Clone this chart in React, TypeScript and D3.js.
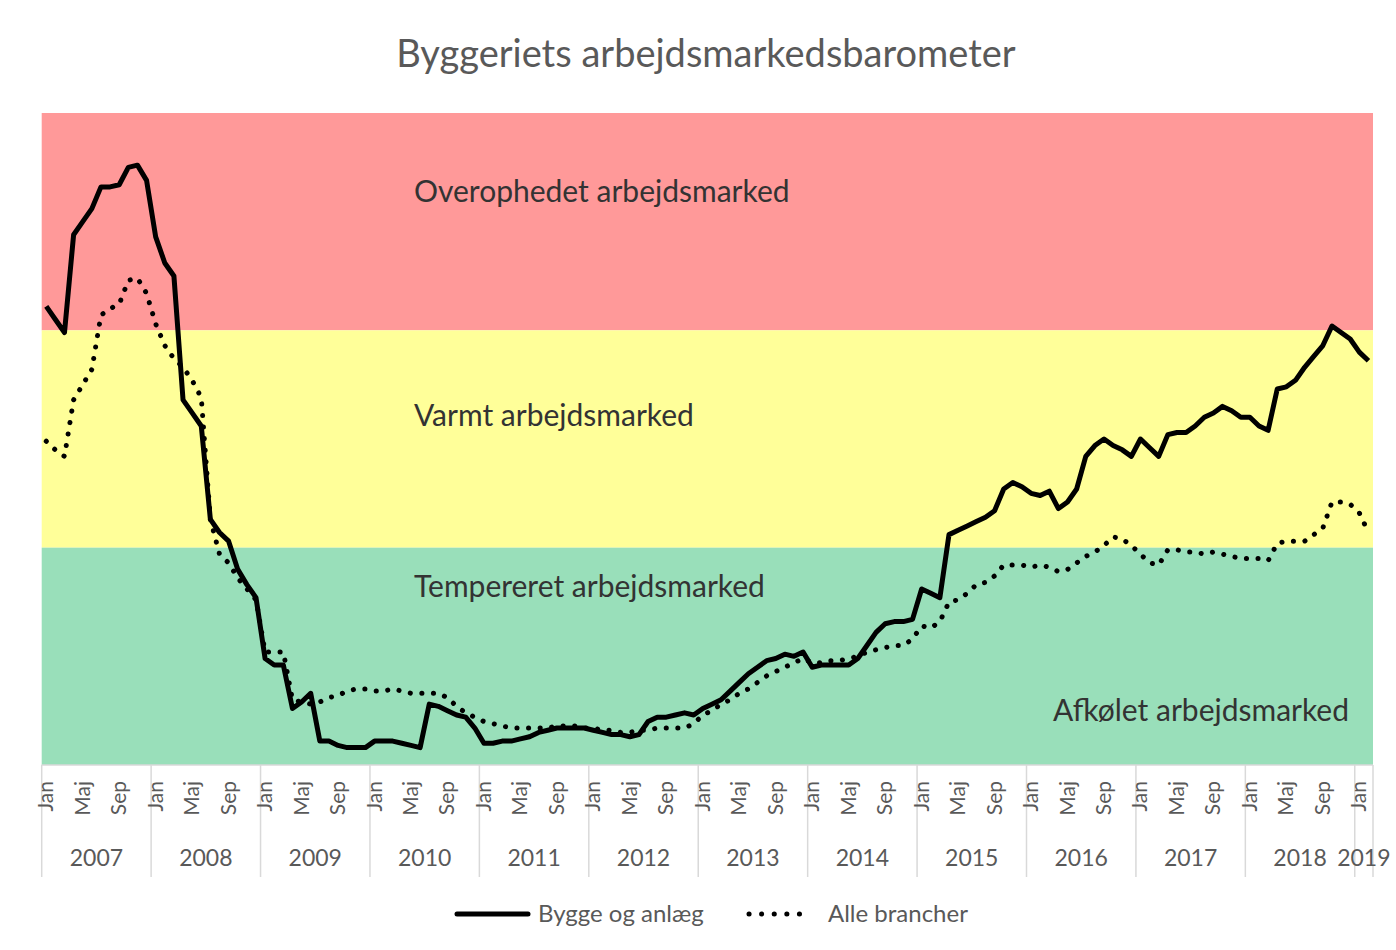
import React, { useEffect, useRef } from 'react';
import * as d3 from 'd3';

const monthNames = ['Jan', 'Feb', 'Mar', 'Apr', 'Maj', 'Jun', 'Jul', 'Aug', 'Sep', 'Okt', 'Nov', 'Dec'];
const years = [2007, 2008, 2009, 2010, 2011, 2012, 2013, 2014, 2015, 2016, 2017, 2018, 2019];
const shownTicks = ['Jan', 'Maj', 'Sep'];

// Jan 2007 .. Feb 2019
const months = years
  .flatMap(y => monthNames.map(m => ({ key: `${m} ${y}`, year: y, month: m })))
  .slice(0, 146);

// Barometer, bands: 0-100 afkølet/tempereret, 100-200 varmt, 200-300 overophedet
const bygge = [
  211, 205, 199, 244, 250, 256, 266, 266, 267, 275, 276, 269,
  243, 231, 225, 168, 162, 156, 113, 107, 103, 90, 83, 77,
  49, 46, 46, 26, 29, 33, 11, 11, 9, 8, 8, 8,
  11, 11, 11, 10, 9, 8, 28, 27, 25, 23, 22, 17,
  10, 10, 11, 11, 12, 13, 15, 16, 17, 17, 17, 17,
  16, 15, 14, 14, 13, 14, 20, 22, 22, 23, 24, 23,
  26, 28, 30, 34, 38, 42, 45, 48, 49, 51, 50, 52,
  45, 46, 46, 46, 46, 49, 55, 61, 65, 66, 66, 67,
  81, 79, 77, 106, 108, 110, 112, 114, 117, 127, 130, 128,
  125, 124, 126, 118, 121, 127, 142, 147, 150, 147, 145, 142,
  150, 146, 142, 152, 153, 153, 156, 160, 162, 165, 163, 160,
  160, 156, 154, 173, 174, 177, 183, 188, 193, 202, 199, 196,
  190, 186
];

const alle = [
  149, 145, 142, 168, 175, 182, 207, 210, 212, 223, 224, 217,
  203, 193, 187, 183, 177, 169, 113, 97, 93, 86, 81, 76,
  52, 52, 52, 30, 29, 28, 29, 31, 32, 34, 35, 35,
  34, 34, 35, 34, 33, 33, 33, 33, 31, 27, 24, 22,
  20, 19, 18, 17, 17, 17, 17, 17, 18, 18, 18, 17,
  17, 16, 16, 15, 15, 16, 16, 17, 17, 17, 17, 19,
  23, 25, 28, 30, 33, 35, 38, 41, 43, 45, 47, 49,
  47, 47, 48, 48, 49, 50, 52, 53, 54, 55, 55, 58,
  64, 63, 66, 75, 76, 79, 83, 84, 87, 92, 92, 92,
  91, 92, 91, 89, 90, 93, 96, 98, 101, 105, 104, 101,
  97, 93, 92, 99, 99, 98, 98, 97, 98, 97, 96, 95,
  95, 95, 94, 102, 103, 103, 103, 106, 109, 121, 121, 120,
  116, 107
];

const zones = [
  { from: 200, to: 300, color: '#FF9999' },
  { from: 100, to: 200, color: '#FFFF99' },
  { from: 0, to: 100, color: '#99DFBA' }
];

const zoneLabels = ['Overophedet arbejdsmarked', 'Varmt arbejdsmarked', 'Tempereret arbejdsmarked', 'Afkølet arbejdsmarked'];

const seriesNames = ['Bygge og anlæg', 'Alle brancher'];

const FONT = 'Lato, "Open Sans", sans-serif';

const App = () => {
  const ref = useRef<SVGSVGElement>(null);

  useEffect(() => {
    const svg = d3.select(ref.current);
    svg.selectAll('*').remove();

    const left = 41.7, right = 1373, top = 113, bottom = 765;

    const x = d3.scaleBand()
      .domain(months.map(d => d.key))
      .range([left, right])
      .padding(0);
    const cx = (k: string) => (x(k) as number) + x.bandwidth() / 2;

    const y = d3.scaleLinear().domain([0, 300]).range([bottom, top]);

    svg.append('rect').attr('width', 1396).attr('height', 950).attr('fill', '#fff');

    // Title
    svg.append('text')
      .attr('x', 706).attr('y', 67)
      .attr('text-anchor', 'middle')
      .attr('font-family', FONT)
      .attr('font-size', 38)
      .attr('fill', '#595959')
      .text('Byggeriets arbejdsmarkedsbarometer');

    // Zone backgrounds
    svg.append('g').selectAll('rect')
      .data(zones)
      .enter()
      .append('rect')
      .attr('x', left)
      .attr('width', right - left)
      .attr('y', d => y(d.to))
      .attr('height', d => y(d.from) - y(d.to))
      .attr('fill', d => d.color);

    // Zone labels
    const labelPos = [
      { x: 414, v: 264, anchor: 'start' },
      { x: 414, v: 161, anchor: 'start' },
      { x: 414, v: 82, anchor: 'start' },
      { x: 1349, v: 25, anchor: 'end' }
    ];
    svg.append('g').selectAll('text')
      .data(zoneLabels)
      .enter()
      .append('text')
      .attr('x', (d, i) => labelPos[i].x)
      .attr('y', (d, i) => y(labelPos[i].v))
      .attr('dy', '0.35em')
      .attr('text-anchor', (d, i) => labelPos[i].anchor)
      .attr('font-family', FONT)
      .attr('font-size', 30)
      .attr('fill', '#333333')
      .text(d => d);

    // Lines
    const line = d3.line<number>()
      .x((d, i) => cx(months[i].key))
      .y(d => y(d));

    svg.append('path')
      .datum(alle)
      .attr('d', line)
      .attr('fill', 'none')
      .attr('stroke', '#000')
      .attr('stroke-width', 5)
      .attr('stroke-linecap', 'round')
      .attr('stroke-dasharray', '0.1 11.5');

    svg.append('path')
      .datum(bygge)
      .attr('d', line)
      .attr('fill', 'none')
      .attr('stroke', '#000')
      .attr('stroke-width', 5)
      .attr('stroke-linejoin', 'round');

    // X axis
    const axis = svg.append('g');
    axis.append('line')
      .attr('x1', left).attr('x2', right)
      .attr('y1', bottom).attr('y2', bottom)
      .attr('stroke', '#d9d9d9').attr('stroke-width', 1.5);

    const yearStarts = months.filter(d => d.month === 'Jan');
    axis.selectAll('line.sep')
      .data([...yearStarts.map(d => x(d.key) as number), right])
      .enter()
      .append('line')
      .attr('class', 'sep')
      .attr('x1', d => d).attr('x2', d => d)
      .attr('y1', bottom).attr('y2', 877)
      .attr('stroke', '#d9d9d9').attr('stroke-width', 1.5);

    axis.selectAll('text.tick')
      .data(months.filter(d => shownTicks.includes(d.month)))
      .enter()
      .append('text')
      .attr('class', 'tick')
      .attr('transform', d => `translate(${cx(d.key) + 7},781) rotate(-90)`)
      .attr('text-anchor', 'end')
      .attr('font-family', FONT)
      .attr('font-size', 21)
      .attr('fill', '#595959')
      .text(d => d.month);

    axis.selectAll('text.year')
      .data(years)
      .enter()
      .append('text')
      .attr('class', 'year')
      .attr('x', yr => {
        const ms = months.filter(m => m.year === yr);
        const x0 = x(ms[0].key) as number;
        const x1 = (x(ms[ms.length - 1].key) as number) + x.bandwidth();
        return (x0 + x1) / 2;
      })
      .attr('y', 866)
      .attr('text-anchor', 'middle')
      .attr('font-family', FONT)
      .attr('font-size', 23)
      .attr('fill', '#595959')
      .text(d => d);

    // Legend
    const lg = svg.append('g');
    lg.append('line')
      .attr('x1', 457).attr('x2', 528).attr('y1', 914).attr('y2', 914)
      .attr('stroke', '#000').attr('stroke-width', 5).attr('stroke-linecap', 'round');
    lg.append('text')
      .attr('x', 538).attr('y', 914).attr('dy', '0.35em')
      .attr('font-family', FONT).attr('font-size', 24).attr('fill', '#595959')
      .text(seriesNames[0]);
    lg.append('line')
      .attr('x1', 749).attr('x2', 812).attr('y1', 914).attr('y2', 914)
      .attr('stroke', '#000').attr('stroke-width', 5).attr('stroke-linecap', 'round')
      .attr('stroke-dasharray', '0.1 12.5');
    lg.append('text')
      .attr('x', 828).attr('y', 914).attr('dy', '0.35em')
      .attr('font-family', FONT).attr('font-size', 24).attr('fill', '#595959')
      .text(seriesNames[1]);
  }, []);

  return (
    <div style={{ position: 'absolute', left: 0, top: 0 }}>
      <svg ref={ref} width={1396} height={950} style={{ display: 'block' }} />
    </div>
  );
};

export default App;
